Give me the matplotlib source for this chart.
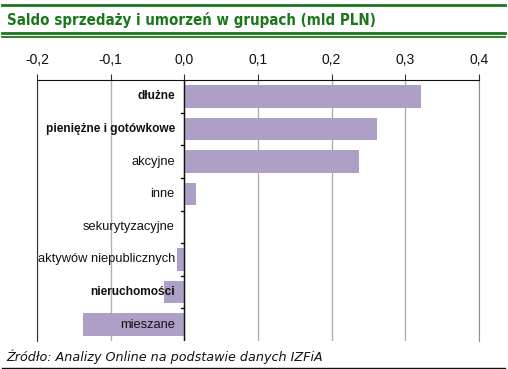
import matplotlib.pyplot as plt
from matplotlib.lines import Line2D
from matplotlib.ticker import FuncFormatter

# dane
kategorie = ["dłużne", "pieniężne i gotówkowe", "akcyjne", "inne",
             "sekurytyzacyjne", "aktywów niepublicznych", "nieruchomości", "mieszane"]
saldo = [0.321, 0.261, 0.237, 0.016, 0.0, -0.010, -0.027, -0.137]
pogrubione = ["dłużne", "pieniężne i gotówkowe", "nieruchomości"]
ticki_x = [-0.2, -0.1, 0.0, 0.1, 0.2, 0.3, 0.4]

ZIELONY = "#1c761c"
FIOLET = "#ae9fc6"

W, H = 508, 369
fig = plt.figure(figsize=(W / 100, H / 100), dpi=100)
plt.rcParams['font.family'] = ['Liberation Sans', 'DejaVu Sans']


def fx(px):
    return px / W


def fy(py):
    return 1 - py / H


# pozycja osi: od -0,2 (x=37) do 0,4 (x=479), y od 80 do 341
ax = fig.add_axes([fx(37), fy(341), fx(479) - fx(37), fy(80) - fy(341)])

y = list(range(len(kategorie)))
ax.barh(y, saldo, height=0.69, color=FIOLET, zorder=2)
ax.set_xlim(-0.2, 0.4)
ax.set_ylim(len(kategorie) - 0.5, -0.5)

ax.set_xticks(ticki_x)
ax.xaxis.set_major_formatter(FuncFormatter(lambda v, p: ("%.1f" % v).replace(".", ",").replace("-0,0", "0,0")))
ax.xaxis.tick_top()
ax.tick_params(axis='x', direction='out', length=4, width=0.8, color='#333333',
               labelsize=10, pad=5, labelcolor='#111111')
ax.set_yticks([])
ax.grid(axis='x', color='#b0b0b0', linewidth=1, zorder=0)

ax.spines['top'].set_color('#111111')
ax.spines['left'].set_color('#333333')
ax.spines['right'].set_color('#909090')
ax.spines['bottom'].set_visible(False)

# linia zera z kreskami
ax.axvline(0, color='#111111', linewidth=1, zorder=3)
for i in range(1, len(kategorie)):
    ax.plot([-0.005, 0], [i - 0.5, i - 0.5], color='#111111', linewidth=1, zorder=3,
            clip_on=False)

for i, k in enumerate(kategorie):
    if k in pogrubione:
        ax.text(-0.013, i, k, ha='right', va='center', fontsize=8.6, color='#111111',
                fontweight='bold', zorder=4)
    else:
        ax.text(-0.013, i, k, ha='right', va='center', fontsize=9.3, color='#111111',
                zorder=4)

# naglowek
fig.add_artist(Line2D([fx(2), fx(505)], [fy(5.3), fy(5.3)], color=ZIELONY, linewidth=2))
fig.add_artist(Line2D([fx(2), fx(505)], [fy(32.5), fy(32.5)], color=ZIELONY, linewidth=2))
fig.add_artist(Line2D([fx(2), fx(505)], [fy(36.6), fy(36.6)], color=ZIELONY, linewidth=1.3))
fig.text(fx(7), fy(19.5), "Saldo sprzedaży i umorzeń w grupach (mld PLN)", color=ZIELONY,
         fontsize=10.8, fontweight='bold', fontstretch='condensed', family=['DejaVu Sans'],
         va='center', ha='left')

# stopka
fig.text(fx(6), fy(357), "Źródło: Analizy Online na podstawie danych IZFiA", style='italic',
         fontsize=9.2, family=['DejaVu Sans'], va='center', ha='left', color='#111111')
fig.add_artist(Line2D([fx(2), fx(505)], [fy(368), fy(368)], color='#111111', linewidth=1))

fig.savefig("out.png", dpi=100)
